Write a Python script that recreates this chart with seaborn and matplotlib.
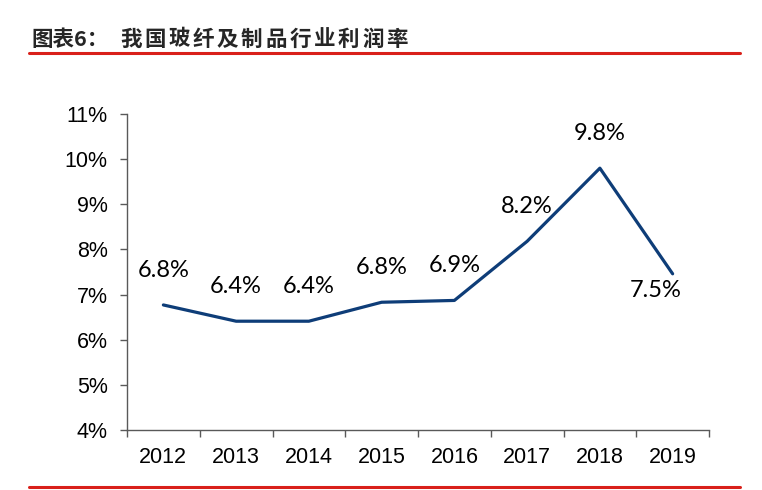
import numpy as np
import pandas as pd
import matplotlib
matplotlib.use("Agg")
import matplotlib.pyplot as plt
from matplotlib.lines import Line2D
from matplotlib.ticker import FixedLocator
import seaborn as sns

# data
years = ["2012", "2013", "2014", "2015", "2016", "2017", "2018", "2019"]
margin = [6.77, 6.41, 6.41, 6.83, 6.87, 8.18, 9.80, 7.46]
y_ticks = [4, 5, 6, 7, 8, 9, 10, 11]

title_head = "图表6："
title_body = "我国玻纤及制品行业利润率"

sns.set_style("white")
plt.rcParams["font.family"] = ["Liberation Sans", "DejaVu Sans"]

df = pd.DataFrame({"year": years, "margin": margin})

fig = plt.figure(figsize=(7.62, 4.9), dpi=100)
ax = fig.add_axes([127 / 762, 1 - 430 / 490, (709 - 127) / 762, (430 - 114) / 490])

sns.lineplot(data=df, x="year", y="margin", ax=ax, color="#0E3D78", linewidth=2.3, sort=False)

ax.set_xlim(-0.5, len(years) - 0.5)
ax.set_ylim(4, 11)
ax.set_yticks(y_ticks)
ax.set_yticklabels([f"{t}%" for t in y_ticks])
ax.set_xticks(range(len(years)))
ax.set_xticklabels(years)
ax.xaxis.set_minor_locator(FixedLocator(np.arange(-0.5, len(years), 1.0)))
ax.set_xlabel("")
ax.set_ylabel("")

for s in ["top", "right"]:
    ax.spines[s].set_visible(False)
for s in ["left", "bottom"]:
    ax.spines[s].set_color("#595959")
    ax.spines[s].set_linewidth(1.0)

ax.tick_params(axis="y", which="major", left=True, length=5, width=1, color="#595959",
               pad=9, labelsize=15.5, labelcolor="black")
ax.tick_params(axis="x", which="major", bottom=False, length=0, pad=12,
               labelsize=15.5, labelcolor="black")
ax.tick_params(axis="x", which="minor", bottom=True, length=5, width=1, color="#595959")

# data labels
for i, v in enumerate(margin):
    if i == len(margin) - 1:
        off = (-12, -12)
    else:
        off = (0, 25)
    ax.annotate(f"{v:.1f}%", (i, v), xytext=off, textcoords="offset points",
                ha="center", va="center", fontsize=17, family="Lato", color="black")

# title
cjk = ["Noto Sans CJK SC", "DejaVu Sans"]
fig.text(31 / 762, 1 - 39 / 490, title_head, fontsize=15.5, fontweight="bold",
         family=cjk, va="center", ha="left")
for k, ch in enumerate(title_body):
    fig.text((120 + k * 24.2) / 762, 1 - 39 / 490, ch, fontsize=15.5, fontweight="bold",
             family=cjk, va="center", ha="left")

# red rules
fig.add_artist(Line2D([29 / 762, 740 / 762], [1 - 53 / 490, 1 - 53 / 490],
                      color="#D9201A", linewidth=2.2, transform=fig.transFigure))
fig.add_artist(Line2D([29 / 762, 740 / 762], [1 - 487 / 490, 1 - 487 / 490],
                      color="#D9201A", linewidth=2.2, transform=fig.transFigure))

fig.savefig("out.png", dpi=100)
